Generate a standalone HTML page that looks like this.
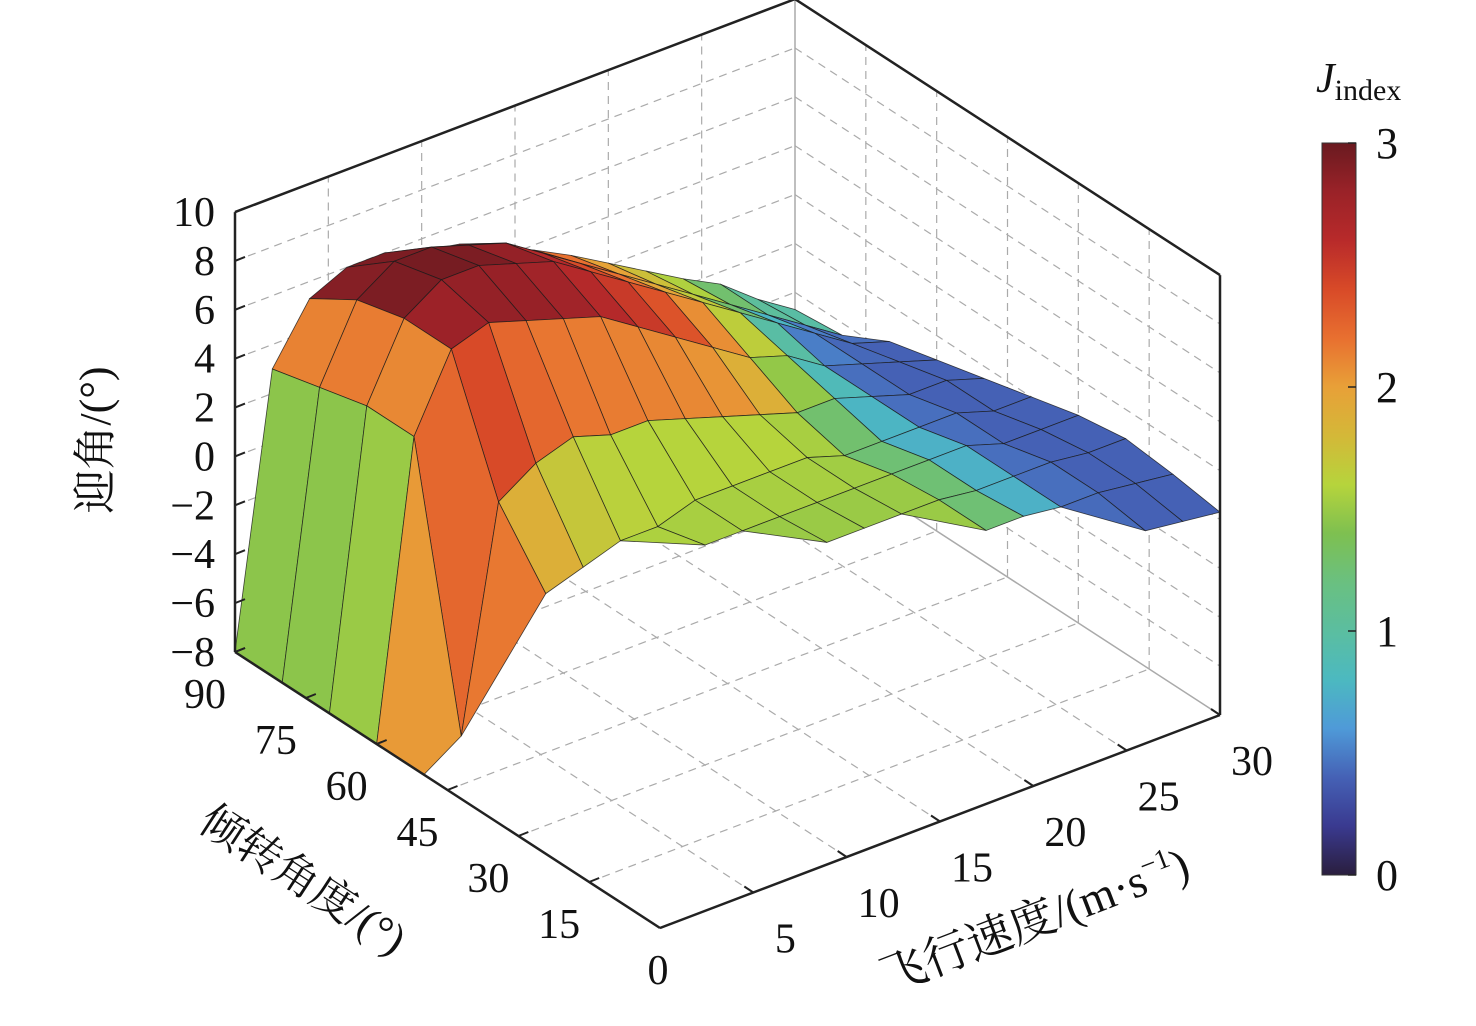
<!DOCTYPE html>
<html><head><meta charset="utf-8"><style>
html,body{margin:0;padding:0;background:#fff;width:1476px;height:1026px;overflow:hidden}
svg text{font-family:"Liberation Serif","Noto Serif CJK SC",serif;fill:#111}
</style></head><body>
<svg id="chart" width="1476" height="1026" viewBox="0 0 1476 1026" xmlns="http://www.w3.org/2000/svg">
<defs>
<linearGradient id="cbar" x1="0" y1="1" x2="0" y2="0">
<stop offset="0" stop-color="#2a1e3e"/><stop offset="0.067" stop-color="#3a3a90"/><stop offset="0.133" stop-color="#4561b5"/>
<stop offset="0.2" stop-color="#4f9ad8"/><stop offset="0.267" stop-color="#4cb9c0"/><stop offset="0.333" stop-color="#5bbea0"/>
<stop offset="0.4" stop-color="#6ac080"/><stop offset="0.467" stop-color="#7ec050"/><stop offset="0.533" stop-color="#b6d43c"/>
<stop offset="0.6" stop-color="#d4b838"/><stop offset="0.667" stop-color="#e8a038"/><stop offset="0.733" stop-color="#e87030"/>
<stop offset="0.8" stop-color="#d84a28"/><stop offset="0.867" stop-color="#b82a2a"/><stop offset="0.933" stop-color="#9a2228"/>
<stop offset="1" stop-color="#6a1a20"/></linearGradient>
</defs>
<g id="grid"></g>
<g id="surf"></g>
<g id="axes"></g>
<g>
<rect x="1322" y="143" width="34" height="732" fill="url(#cbar)" stroke="#333" stroke-width="1"/>
<text x="1316" y="92" font-size="42" font-style="italic">J<tspan font-size="30" font-style="normal" dy="8">index</tspan></text>
<g id="cbticks"></g>
</g>
<text transform="translate(110,440) rotate(-90)" font-size="44" text-anchor="middle">迎角/(°)</text>
<text transform="translate(295,892) rotate(33)" font-size="44" text-anchor="middle">倾转角度/(°)</text>
<text transform="translate(1040,935) rotate(-21)" font-size="46" text-anchor="middle">飞行速度/(m·s<tspan font-size="28" dy="-18">−1</tspan><tspan dy="18">)</tspan></text>
</svg>
<script>
const speeds=[0,2,4,6,8,10,12,14,16,18,20,22,24,26,28,30];
const tilts=[90,80,70,60,50,40,30,20,10,0];
const N=null;
const zRows=[
[-8,3,5.3,6,6,5.5,5.2,4.5,3.8,3,2.1,1.2,0.3,-0.5,-1.7,-2.7],
[-8,3.5,6.5,7.5,7.5,7,6.5,5.5,4.5,3.5,2.5,1.5,0.5,-0.5,-1.5,-2.5],
[-8,4,7,8,8,7.5,7,6,5,4,3,2,1,0,-1,-1.5],
[-8,4,7,7.5,7,6.5,6,5,4,3,2,1.5,0.5,0,-0.5,-1],
[-8,-7,2,3,3.5,3,3,2.5,2,1.5,1,1,0.5,0,0,-0.5],
[N,N,-0.5,0,0.5,0.5,1,1,1,1,0.5,0.5,0.5,0.5,0,0],
[N,N,N,N,N,1,1,1,1,1,1,1,1,0.5,0.5,0.5],
[N,N,N,N,N,N,N,1.2,1.2,1.2,1.2,1,1,1,0.8,0.8],
[N,N,N,N,N,N,N,N,N,N,1.2,1.2,1,1,0.8,0.6],
[N,N,N,N,N,N,N,N,N,N,N,N,N,0.7,0.5,0.3]];
const jRows=[
[1.5,1.4,2.8,2.9,2.9,2.9,2.8,2.6,2.3,2.1,1.9,1.7,1.6,1.5,1.5,1.4],
[1.5,1.4,2.9,2.95,2.95,2.9,2.8,2.5,2.3,2.1,1.8,1.6,1.4,0.6,0.5,0.5],
[1.5,1.4,2.9,2.95,2.95,2.9,2.7,2.5,2.3,2.1,1.8,1.5,0.6,0.5,0.4,0.4],
[1.6,1.5,2.6,2.7,2.7,2.7,2.7,2.6,2.6,2.4,2.0,1.3,0.5,0.4,0.4,0.4],
[2.5,2.5,2.4,1.9,1.7,1.6,1.6,1.6,1.6,1.6,1.5,1.1,0.5,0.4,0.4,0.4],
[N,N,1.6,1.6,1.6,1.6,1.6,1.6,1.6,1.6,1.5,1.0,0.5,0.4,0.4,0.4],
[N,N,N,N,N,1.5,1.5,1.5,1.5,1.5,1.5,1.0,0.5,0.4,0.4,0.4],
[N,N,N,N,N,N,N,1.5,1.5,1.5,1.5,1.0,0.5,0.4,0.4,0.4],
[N,N,N,N,N,N,N,N,N,N,1.5,1.0,0.5,0.4,0.4,0.4],
[N,N,N,N,N,N,N,N,N,N,N,N,N,0.4,0.4,0.4]];
const zTicks=[10,8,6,4,2,0,-2,-4,-6,-8];
const zTickLabels=["10","8","6","4","2","0","−2","−4","−6","−8"];
const tiltTicks=[90,75,60,45,30,15,0];
const speedTicks=[5,10,15,20,25,30];
const cbTicks=[0,1,2,3];

const SVGNS="http://www.w3.org/2000/svg";
const O={x:660,y:928}, SX={x:560,y:-213}, TY={x:-425,y:-276}, ZPX=24.44;
function P(s,t,z){return [O.x+s/30*SX.x+t/90*TY.x, O.y+s/30*SX.y+t/90*TY.y-(z+8)*ZPX];}
const stops=[[0,"#2a1e3e"],[0.2,"#3a3a90"],[0.4,"#4561b5"],[0.6,"#4f9ad8"],[0.8,"#4cb9c0"],[1.0,"#5bbea0"],[1.2,"#6ac080"],[1.4,"#7ec050"],[1.6,"#b6d43c"],[1.8,"#d4b838"],[2.0,"#e8a038"],[2.2,"#e87030"],[2.4,"#d84a28"],[2.6,"#b82a2a"],[2.8,"#9a2228"],[3.0,"#6a1a20"]];
function hx(c){return [1,3,5].map(i=>parseInt(c.substr(i,2),16));}
function cmap(v){v=Math.max(0,Math.min(3,v));for(let i=0;i<stops.length-1;i++){const a=stops[i],b=stops[i+1];if(v<=b[0]){const f=(v-a[0])/(b[0]-a[0]);const A=hx(a[1]),B=hx(b[1]);return "rgb("+A.map((x,k)=>Math.round(x+(B[k]-x)*f)).join(",")+")";}}return stops[stops.length-1][1];}
function mk(tag,attrs,parent){const e=document.createElementNS(SVGNS,tag);for(const k in attrs)e.setAttribute(k,attrs[k]);parent.appendChild(e);return e;}
const grid=document.getElementById('grid'), surf=document.getElementById('surf'), axes=document.getElementById('axes');
function line(p,q,parent,st,name){const e=mk('line',{x1:p[0],y1:p[1],x2:q[0],y2:q[1],stroke:st.c,'stroke-width':st.w,'stroke-dasharray':st.d||''},parent);

return e;}
const dash={c:"#aaa",w:1.2,d:"8,6"}, solid={c:"#222",w:2.5}, grey={c:"#aaa",w:1.5};
zTicks.forEach(z=>{if(z===-8||z===10)return;line(P(0,90,z),P(30,90,z),grid,dash,'back-wall-z-gridline');line(P(30,90,z),P(30,0,z),grid,dash,'side-wall-z-gridline');});
speedTicks.forEach(s=>{if(s===30)return;line(P(s,90,-8),P(s,90,10),grid,dash,'back-wall-speed-gridline');line(P(s,0,-8),P(s,90,-8),grid,dash,'floor-speed-gridline');});
tiltTicks.forEach(t=>{if(t===90||t===0)return;line(P(30,t,-8),P(30,t,10),grid,dash,'side-wall-tilt-gridline');line(P(0,t,-8),P(30,t,-8),grid,dash,'floor-tilt-gridline');});
line(P(30,90,-8),P(30,90,10),grid,grey,'back-corner-edge');
line(P(0,90,-8),P(30,90,-8),grid,grey,'floor-back-edge');
line(P(30,90,-8),P(30,0,-8),grid,grey,'floor-side-edge');
const cells=[];
for(let i=0;i<tilts.length-1;i++)for(let j=0;j<speeds.length-1;j++){
 const c=[[i,j],[i,j+1],[i+1,j+1],[i+1,j]].filter(([a,b])=>zRows[a][b]!==null);
 if(c.length<3)continue;
 const depth=c.reduce((m,[a,b])=>m+speeds[b]/30+tilts[a]/90,0)/c.length;
 const jv=c.reduce((m,[a,b])=>m+jRows[a][b],0)/c.length;
 cells.push({c,depth,jv});}
cells.sort((a,b)=>b.depth-a.depth);
cells.forEach(cl=>{const pts=cl.c.map(([a,b])=>P(speeds[b],tilts[a],zRows[a][b]).join(",")).join(" ");
 const e=mk('polygon',{points:pts,fill:cmap(cl.jv),stroke:"#1a1a1a","stroke-width":0.8,"stroke-opacity":0.8},surf);
 
 });
line(P(0,90,10),P(30,90,10),axes,solid,'top-back-edge');
line(P(30,90,10),P(30,0,10),axes,solid,'top-side-edge');
line(P(0,90,10),P(0,90,-8),axes,solid,'z-axis-line');
line(P(30,0,10),P(30,0,-8),axes,solid,'right-vertical-edge');
line(P(0,90,-8),P(0,0,-8),axes,solid,'tilt-axis-line');
line(P(0,0,-8),P(30,0,-8),axes,solid,'speed-axis-line');
function txt(x,y,s,anchor,name,size){const e=mk('text',{x:x,y:y,'font-size':size||42,'text-anchor':anchor},axes);e.textContent=s;

}
zTicks.forEach((z,k)=>{const p=P(0,90,z);line(p,[p[0]+10,p[1]-4],axes,{c:"#222",w:2},'z-tick');txt(p[0]-20,p[1]+14,zTickLabels[k],'end','z-tick-label');});
tiltTicks.forEach(t=>{const p=P(0,t,-8);line(p,[p[0]+10,p[1]-4],axes,{c:"#222",w:2},'tilt-tick');txt(p[0]-(t===0?2:30),p[1]+56,String(t),'middle','tilt-tick-label');});
speedTicks.forEach(s=>{const p=P(s,0,-8);line(p,[p[0]-9,p[1]-6],axes,{c:"#222",w:2},'speed-tick');txt(p[0]+32,p[1]+60,String(s),'middle','speed-tick-label');});
const cbt=document.getElementById('cbticks');
cbTicks.forEach(v=>{const y=875-v/3*732;mk('line',{x1:1348,y1:y,x2:1356,y2:y,stroke:"#222","stroke-width":1.5},cbt);
const e=mk('text',{x:1376,y:y+15,'font-size':44},cbt);e.textContent=String(v);

});
</script>
</body></html>
